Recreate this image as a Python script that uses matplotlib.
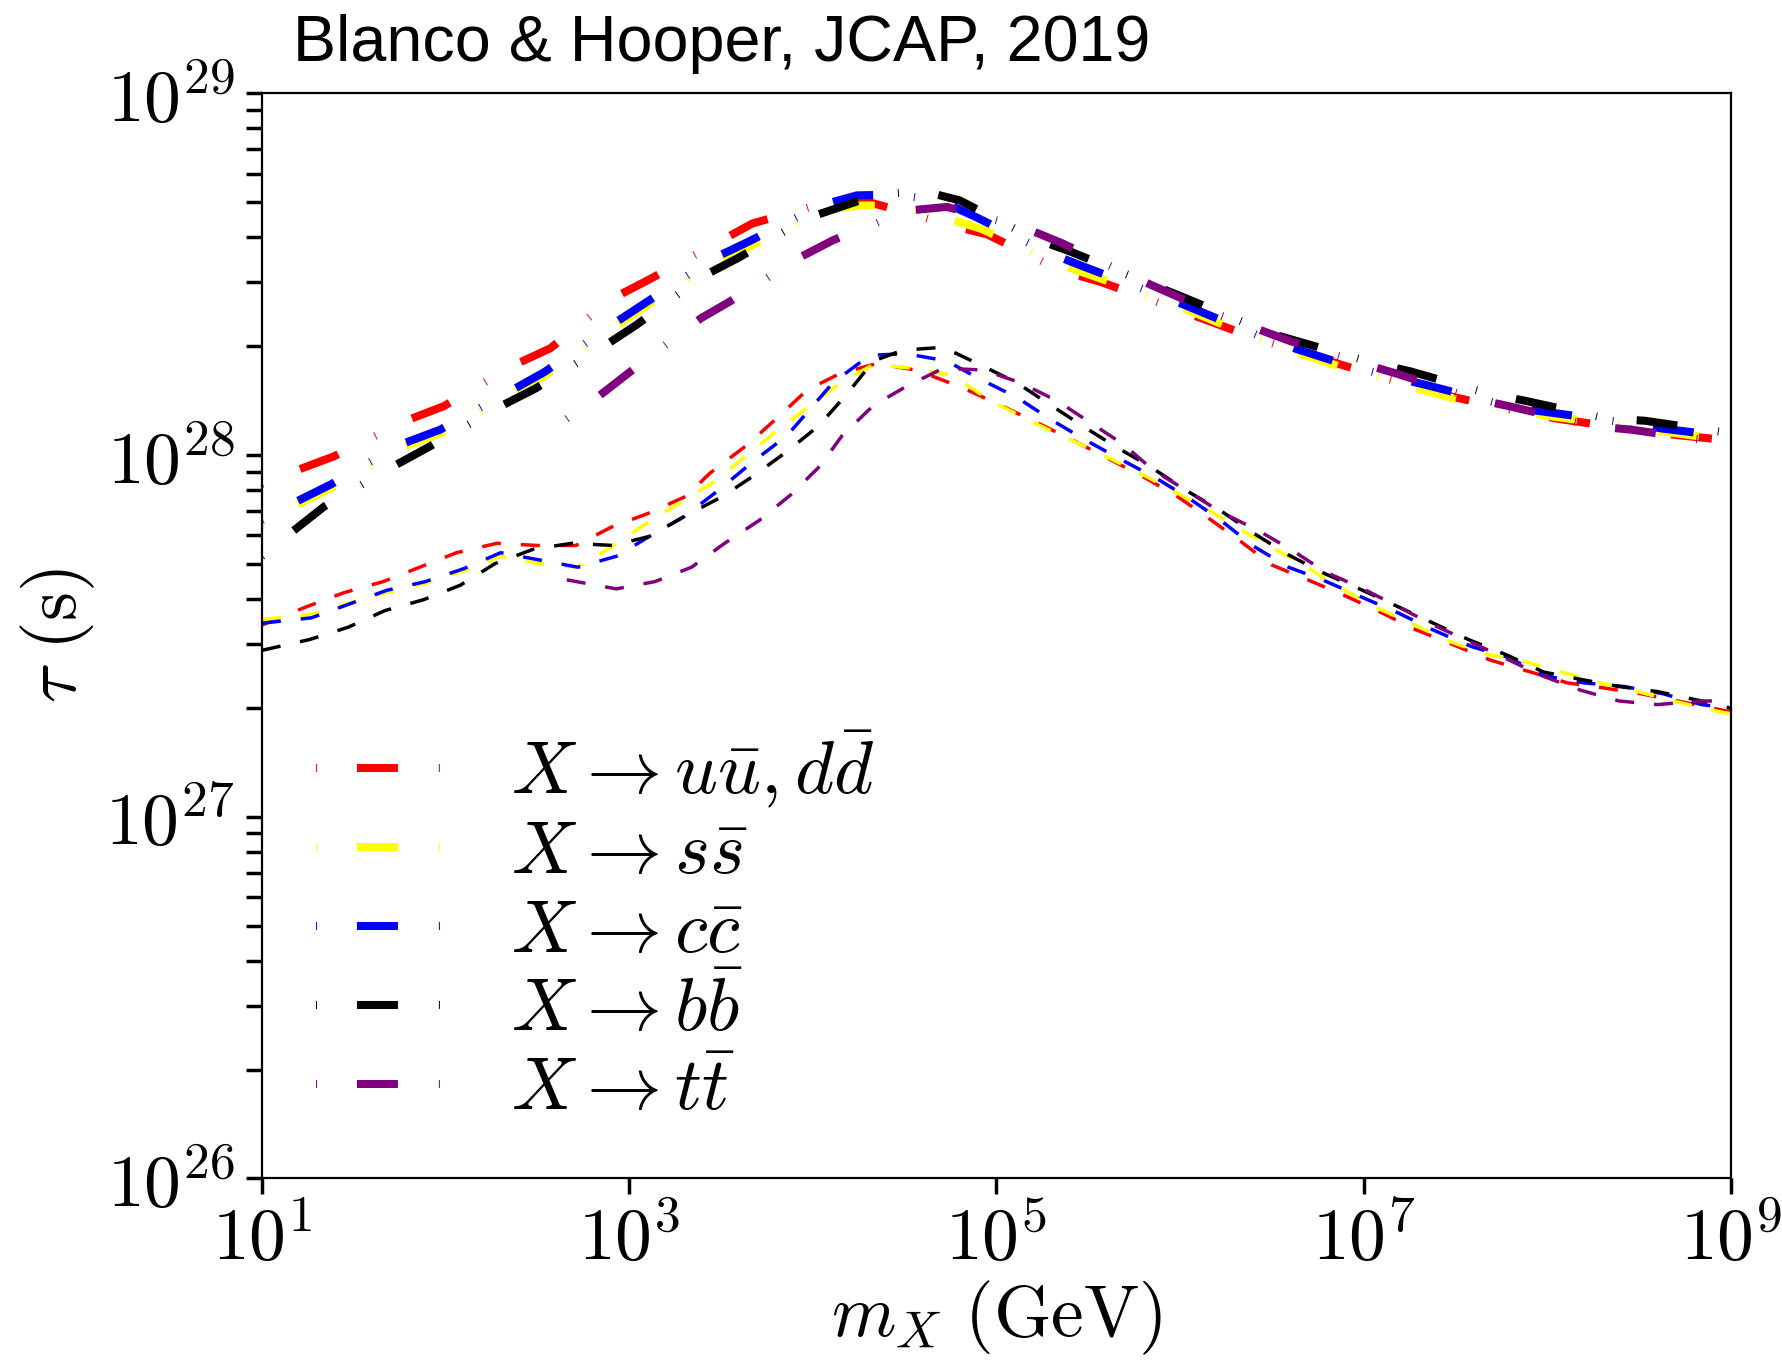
import numpy as np
import matplotlib.pyplot as plt
from matplotlib.ticker import FixedLocator, LogLocator, NullLocator

plt.rcParams["mathtext.fontset"] = "cm"
plt.rcParams["lines.scale_dashes"] = False

# log10 of mass (GeV) and log10 of lifetime (s)
# upper (thick, dash-dot) curves
up_uu_m = [1.0, 1.19, 1.39, 1.79, 1.99, 2.37, 2.57, 2.91, 3.10, 3.49, 3.67, 4.11, 4.30, 4.55,
           4.75, 4.95, 5.35, 5.56, 6.0, 6.4, 6.78, 7.1, 7.41, 7.75, 8.06, 8.4, 8.71, 9.0]
up_uu_t = [27.92, 27.958, 27.996, 28.096, 28.135, 28.248, 28.295, 28.433, 28.483, 28.59, 28.64,
           28.704, 28.70, 28.665, 28.635, 28.61, 28.51, 28.48, 28.40, 28.325, 28.265, 28.215,
           28.17, 28.13, 28.10, 28.075, 28.055, 28.04]

up_ss_m = [1.0, 1.19, 1.38, 1.76, 1.97, 2.35, 2.54, 2.906, 3.086, 3.46, 3.65, 4.06, 4.27, 4.45,
           4.70, 4.92, 5.3, 5.5, 6.0, 6.5, 6.9, 7.18, 7.5, 7.98, 8.42, 8.63, 9.0]
up_ss_t = [27.81, 27.862, 27.91, 28.02, 28.06, 28.166, 28.22, 28.35, 28.41, 28.53, 28.575,
           28.68, 28.69, 28.69, 28.66, 28.625, 28.535, 28.50, 28.41, 28.305, 28.24, 28.20,
           28.155, 28.11, 28.08, 28.065, 28.04]

up_cc_m = [1.0, 1.19, 1.38, 1.76, 1.97, 2.35, 2.54, 2.906, 3.086, 3.46, 3.65, 4.04, 4.24, 4.45,
           4.69, 4.88, 5.28, 5.48, 6.0, 6.5, 6.9, 7.18, 7.33, 7.83, 7.98, 8.42, 8.63, 9.0]
up_cc_t = [27.82, 27.872, 27.92, 28.03, 28.07, 28.176, 28.23, 28.36, 28.42, 28.544, 28.59,
           28.69, 28.718, 28.72, 28.704, 28.66, 28.56, 28.52, 28.42, 28.315, 28.25, 28.213,
           28.195, 28.13, 28.12, 28.09, 28.073, 28.05]

up_bb_m = [1.0, 1.17, 1.34, 1.72, 1.915, 2.30, 2.49, 2.86, 3.04, 3.40, 3.59, 3.97, 4.35, 4.60,
           4.80, 5.20, 5.40, 6.0, 6.5, 7.05, 7.25, 7.68, 7.88, 8.33, 8.53, 9.0]
up_bb_t = [27.72, 27.79, 27.858, 27.97, 28.024, 28.135, 28.184, 28.30, 28.36, 28.494, 28.544,
           28.655, 28.72, 28.73, 28.704, 28.60, 28.563, 28.44, 28.335, 28.255, 28.232, 28.17,
           28.15, 28.10, 28.095, 28.06]

up_tt_m = [2.66, 2.84, 3.015, 3.39, 3.55, 3.92, 4.11, 4.52, 4.73, 5.16, 5.36, 5.8, 6.2, 6.6,
           6.98, 7.18, 7.61, 7.81, 8.25, 8.46, 8.91, 9.0]
up_tt_t = [28.10, 28.165, 28.234, 28.378, 28.425, 28.544, 28.594, 28.676, 28.686, 28.627,
           28.585, 28.48, 28.39, 28.315, 28.255, 28.225, 28.155, 28.133, 28.08, 28.07, 28.037,
           28.033]

# lower (thin, dashed) curves
lo_uu_m = [1.0, 1.24, 1.45, 1.66, 1.86, 2.06, 2.28, 2.50, 2.71, 2.90, 3.11, 3.31, 3.44, 3.64,
           3.80, 3.97, 4.15, 4.35, 4.57, 4.82, 5.02, 5.22, 5.42, 5.61, 5.80, 5.99, 6.17, 6.32,
           6.50, 6.70, 6.89, 7.09, 7.27, 7.49, 7.69, 7.91, 8.11, 8.31, 8.51, 8.71, 8.95, 9.0]
lo_uu_t = [27.53, 27.58, 27.62, 27.65, 27.69, 27.73, 27.756, 27.75, 27.75, 27.80, 27.84, 27.886,
           27.95, 28.027, 28.10, 28.18, 28.226, 28.253, 28.234, 28.185, 28.138, 28.09, 28.04,
           27.99, 27.94, 27.884, 27.82, 27.765, 27.696, 27.654, 27.613, 27.566, 27.52, 27.475,
           27.433, 27.40, 27.37, 27.356, 27.34, 27.32, 27.295, 27.29]

lo_ss_m = [1.0, 1.27, 1.47, 1.68, 1.89, 2.10, 2.30, 2.50, 2.72, 2.90, 3.09, 3.27, 3.46, 3.80,
           4.15, 4.33, 4.55, 4.76, 4.97, 5.2, 5.5, 5.8, 6.15, 6.31, 6.46, 6.66, 6.86, 7.06,
           7.26, 7.46, 7.66, 7.87, 8.08, 8.29, 8.50, 8.71, 8.94, 9.0]
lo_ss_t = [27.545, 27.56, 27.59, 27.62, 27.645, 27.68, 27.72, 27.70, 27.69, 27.745, 27.81,
           27.866, 27.925, 28.065, 28.20, 28.25, 28.24, 28.22, 28.15, 28.09, 28.02, 27.945,
           27.85, 27.80, 27.756, 27.70, 27.636, 27.58, 27.535, 27.486, 27.45, 27.43, 27.40,
           27.37, 27.345, 27.317, 27.29, 27.285]

lo_cc_m = [1.0, 1.27, 1.47, 1.68, 1.89, 2.10, 2.30, 2.51, 2.72, 2.93, 3.11, 3.30, 3.48, 3.67,
           3.86, 4.11, 4.31, 4.51, 4.73, 4.91, 5.11, 5.29, 5.49, 5.67, 5.87, 6.05, 6.22, 6.40,
           6.59, 6.78, 6.99, 7.19, 7.38, 7.59, 7.79, 7.98, 8.20, 8.42, 8.63, 8.84, 9.0]
lo_cc_t = [27.535, 27.55, 27.587, 27.626, 27.65, 27.686, 27.73, 27.71, 27.69, 27.72, 27.775,
           27.83, 27.90, 27.98, 28.054, 28.20, 28.276, 28.28, 28.26, 28.21, 28.16, 28.10, 28.04,
           27.99, 27.936, 27.88, 27.82, 27.748, 27.69, 27.654, 27.607, 27.563, 27.516, 27.47,
           27.44, 27.39, 27.37, 27.36, 27.34, 27.31, 27.30]

lo_bb_m = [1.0, 1.26, 1.47, 1.67, 1.88, 2.08, 2.27, 2.48, 2.69, 2.91, 3.11, 3.30, 3.51, 3.67,
           3.86, 4.03, 4.18, 4.33, 4.49, 4.71, 4.91, 5.11, 5.29, 5.47, 5.66, 5.84, 6.04, 6.21,
           6.40, 6.59, 6.78, 6.99, 7.19, 7.38, 7.57, 7.78, 7.98, 8.18, 8.39, 8.60, 8.84, 9.0]
lo_bb_t = [27.46, 27.49, 27.524, 27.57, 27.60, 27.64, 27.70, 27.74, 27.756, 27.75, 27.775,
           27.83, 27.886, 27.94, 28.01, 28.08, 28.165, 28.26, 28.29, 28.298, 28.25, 28.20, 28.14,
           28.08, 28.02, 27.967, 27.90, 27.85, 27.784, 27.724, 27.674, 27.627, 27.58, 27.535,
           27.49, 27.447, 27.40, 27.38, 27.36, 27.346, 27.32, 27.30]

lo_tt_m = [2.66, 2.93, 3.14, 3.34, 3.52, 3.71, 3.88, 4.04, 4.16, 4.33, 4.51, 4.71, 4.93, 5.13,
           5.33, 5.51, 5.69, 5.85, 6.04, 6.22, 6.43, 6.61, 6.79, 6.99, 7.19, 7.38, 7.57, 7.78,
           7.97, 8.18, 8.39, 8.60, 8.83, 9.0]
lo_tt_t = [27.655, 27.63, 27.65, 27.69, 27.756, 27.82, 27.89, 27.97, 28.054, 28.137, 28.19,
           28.24, 28.235, 28.20, 28.15, 28.09, 28.03, 27.96, 27.90, 27.843, 27.79, 27.737,
           27.677, 27.632, 27.58, 27.53, 27.486, 27.436, 27.39, 27.35, 27.32, 27.31, 27.32,
           27.32]

labels = [r"$X \rightarrow u\bar{u}, d\bar{d}$", r"$X \rightarrow s\bar{s}$",
          r"$X \rightarrow c\bar{c}$", r"$X \rightarrow b\bar{b}$", r"$X \rightarrow t\bar{t}$"]
colors = ["red", "yellow", "blue", "black", "purple"]

upper = [(up_uu_m, up_uu_t), (up_ss_m, up_ss_t), (up_cc_m, up_cc_t),
         (up_bb_m, up_bb_t), (up_tt_m, up_tt_t)]
lower = [(lo_uu_m, lo_uu_t), (lo_ss_m, lo_ss_t), (lo_cc_m, lo_cc_t),
         (lo_bb_m, lo_bb_t), (lo_tt_m, lo_tt_t)]

xticks = [1e1, 1e3, 1e5, 1e7, 1e9]
xticklabels = [r"$10^{1}$", r"$10^{3}$", r"$10^{5}$", r"$10^{7}$", r"$10^{9}$"]
yticks = [1e26, 1e27, 1e28, 1e29]
yticklabels = [r"$10^{26}$", r"$10^{27}$", r"$10^{28}$", r"$10^{29}$"]

fig = plt.figure(figsize=(17.83, 13.65), dpi=100)
ax = fig.add_axes([0.1469, 0.1367, 0.8239, 0.7949])

for (m, t), c, lab in zip(upper, colors, labels):
    ax.plot(10 ** np.array(m), 10 ** np.array(t), color=c, lw=5.8,
            dashes=(0.7, 28.8, 29.5, 29.5), label=lab)
for (m, t), c in zip(lower, colors):
    ax.plot(10 ** np.array(m), 10 ** np.array(t), color=c, lw=2.5, dashes=(13.7, 14.4))

ax.set_xscale("log")
ax.set_yscale("log")
ax.set_xlim(1e1, 1e9)
ax.set_ylim(1e26, 1e29)

ax.xaxis.set_major_locator(FixedLocator(xticks))
ax.set_xticklabels(xticklabels)
ax.xaxis.set_minor_locator(NullLocator())
ax.yaxis.set_major_locator(FixedLocator(yticks))
ax.set_yticklabels(yticklabels)
ax.yaxis.set_minor_locator(LogLocator(base=10, subs=range(2, 10), numticks=20))

ax.tick_params(which="both", direction="out", length=11.5, width=2.5,
               labelsize=53, top=False, right=False)
ax.tick_params(axis="x", pad=6)
ax.tick_params(axis="y", pad=8)
for s in ax.spines.values():
    s.set_linewidth(1.6)

ax.set_xlabel(r"$m_X\ (\mathrm{GeV})$", fontsize=53, labelpad=2)
ax.set_ylabel(r"$\tau\ (\mathrm{s})$", fontsize=53, labelpad=6)

ax.legend(loc="lower left", bbox_to_anchor=(0.037, 0.048), frameon=False, fontsize=54,
          handlelength=1.66, handletextpad=0.93, labelspacing=0.08,
          borderpad=0, borderaxespad=0)

fig.text(0.405, 0.968, "Blanco & Hooper, JCAP, 2019", ha="center", va="center",
         fontsize=46.5, family=["Liberation Sans Narrow", "Liberation Sans", "DejaVu Sans"])

fig.savefig("out.png", dpi=100)
